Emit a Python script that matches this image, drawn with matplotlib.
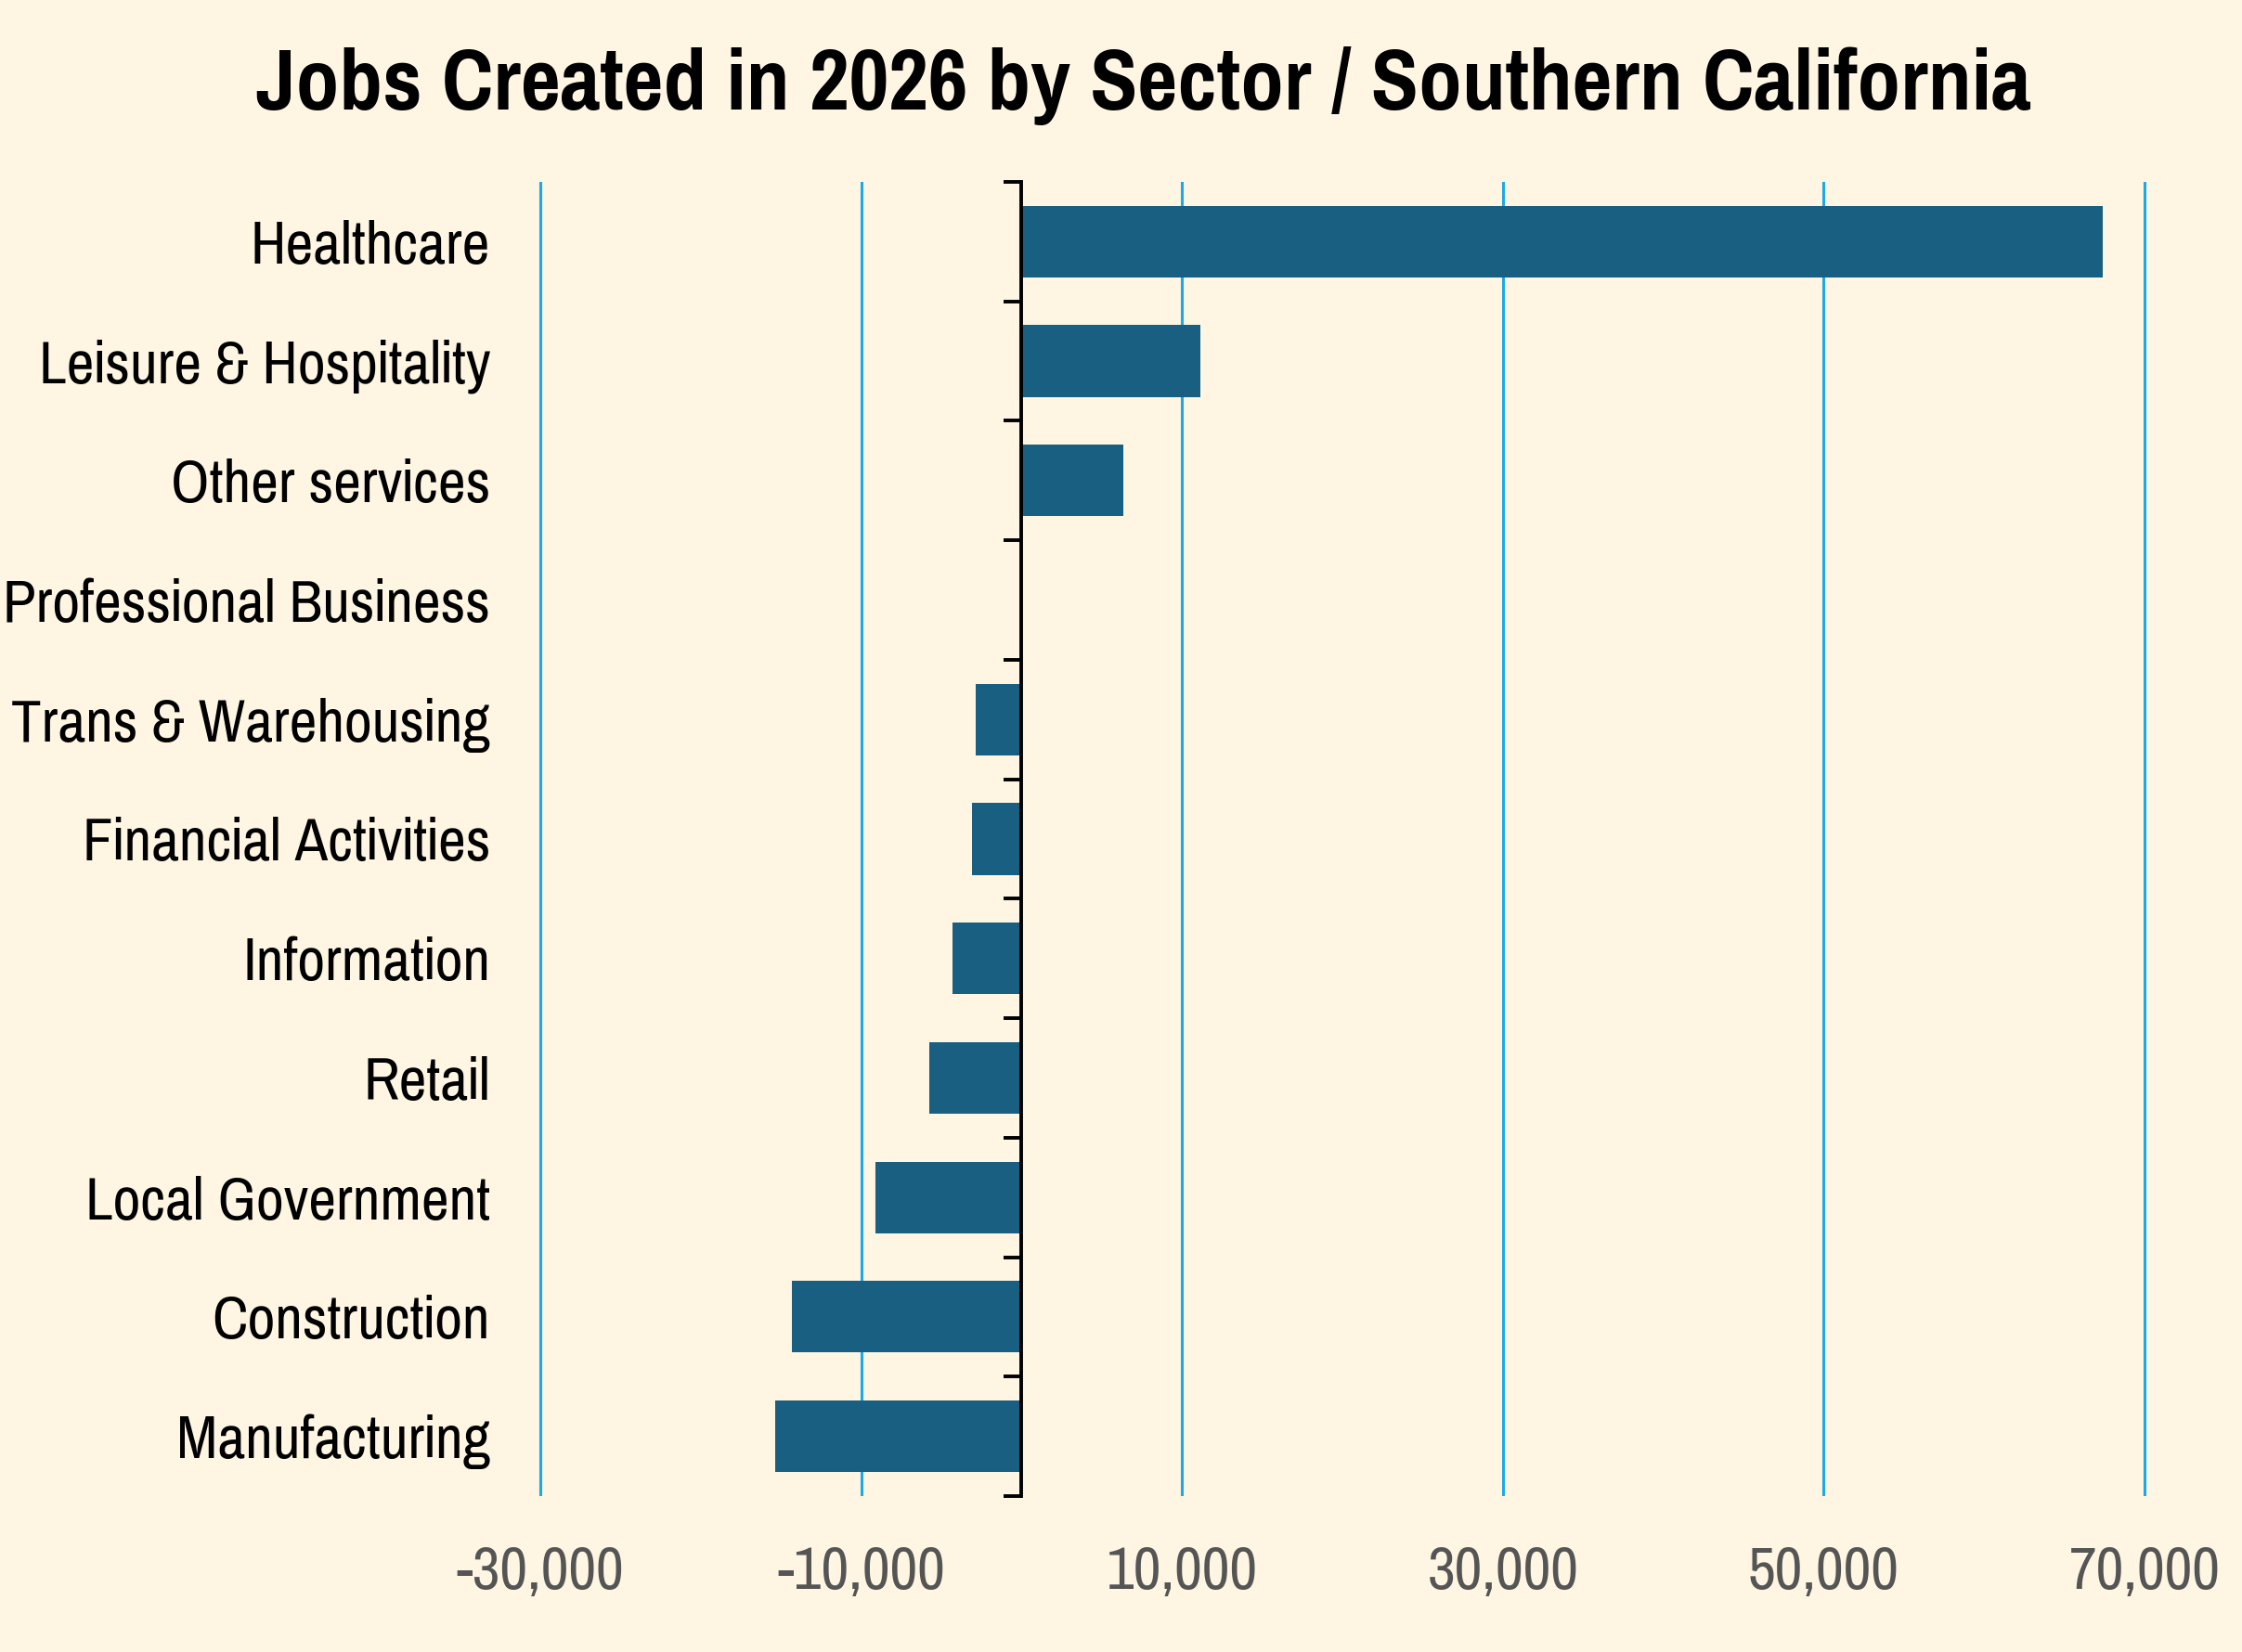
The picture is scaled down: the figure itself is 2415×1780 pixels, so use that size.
import numpy as np
import matplotlib
matplotlib.use('Agg')
import matplotlib.pyplot as plt
from matplotlib.ticker import FuncFormatter

# Daten (von oben nach unten)
sectors = ['Healthcare', 'Leisure & Hospitality', 'Other services', 'Professional Business',
           'Trans & Warehousing', 'Financial Activities', 'Information', 'Retail',
           'Local Government', 'Construction', 'Manufacturing']
jobs = [67400, 11130, 6320, -60, -2850, -3080, -4310, -5780, -9100, -14330, -15360]
xticks = [-30000, -10000, 10000, 30000, 50000, 70000]

bg = '#FEF6E2'
bar_color = '#185F81'
grid_color = '#1BAAE8'

plt.rcParams['font.family'] = ['Pragati Narrow', 'Liberation Sans', 'DejaVu Sans']

fig = plt.figure(figsize=(12.075, 8.9), dpi=200, facecolor=bg)
ax = fig.add_axes([0.2267, 0.0944, 0.7441, 0.7955], facecolor=bg)

y = np.arange(len(sectors))[::-1]
ax.barh(y, jobs, height=0.6, color=bar_color, zorder=3)

ax.set_xlim(-32000, 72000)
ax.set_ylim(-0.5, len(sectors) - 0.5)

# vertikale Gitterlinien
ax.set_xticks(xticks)
ax.xaxis.set_major_formatter(FuncFormatter(lambda v, p: f'{int(v):,}'))
ax.tick_params(axis='x', length=0, pad=19, labelsize=25.5, labelcolor='#555555')
ax.grid(axis='x', color=grid_color, linewidth=1.1, zorder=1)
ax.grid(axis='y', visible=False)

# Achse bei null mit Ticks an den Kategoriegrenzen
for s in ['top', 'right', 'bottom']:
    ax.spines[s].set_visible(False)
ax.spines['left'].set_position(('data', 0))
ax.spines['left'].set_linewidth(1.4)
ax.spines['left'].set_zorder(4)
ax.set_yticks(np.arange(-0.5, len(sectors)), [])
ax.tick_params(axis='y', which='major', direction='out', length=6.8, width=1.4)
ax.set_yticks(y, sectors, minor=True)
ax.tick_params(axis='y', which='minor', length=0, pad=206, labelsize=25.5)

fig.suptitle('Jobs Created in 2026 by Sector / Southern California',
             x=0.51, y=0.948, va='center', fontsize=36.6, fontweight='bold')

plt.savefig('out.png', dpi=200, facecolor=bg)
